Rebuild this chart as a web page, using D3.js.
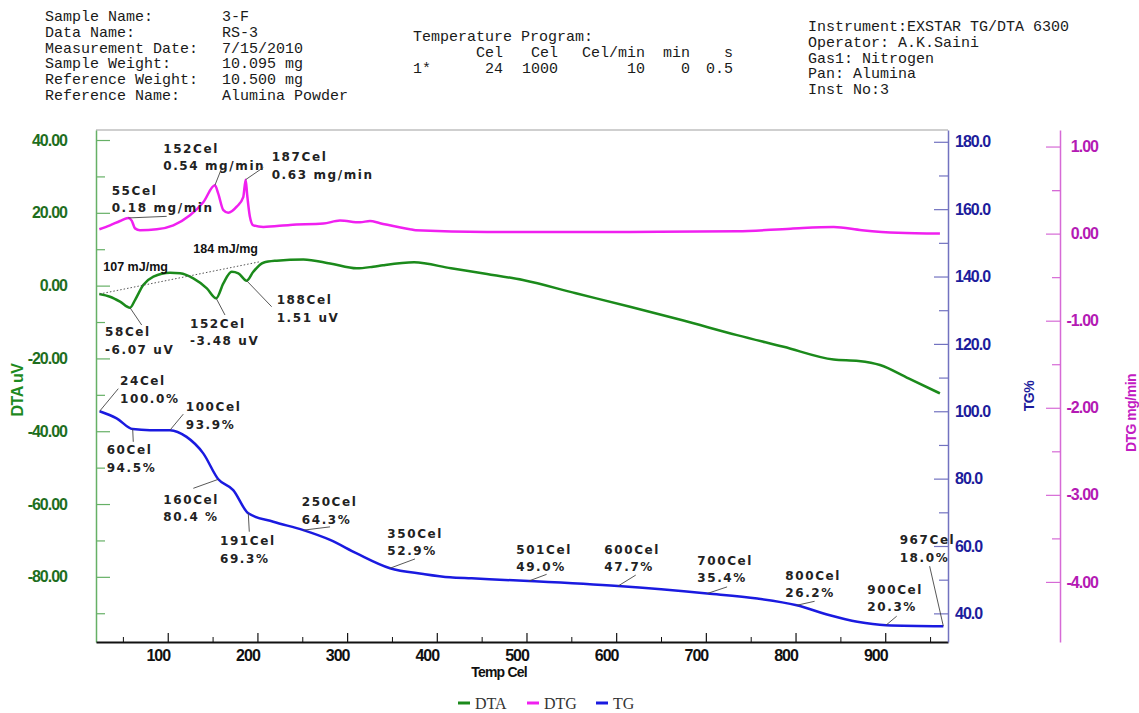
<!DOCTYPE html>
<html>
<head>
<meta charset="utf-8">
<title>TG/DTA 3-F</title>
<script src="https://cdnjs.cloudflare.com/ajax/libs/d3/7.8.5/d3.min.js"></script>
<style>
  body { margin: 0; background: #fff; }
  svg { display: block; }
  .mono { font-family: "Liberation Mono", "DejaVu Sans Mono", monospace; font-size: 15px; fill: #1a1a1a; }
  .tick text { font-family: "Liberation Sans", Arial, sans-serif; font-weight: bold; font-size: 16px; letter-spacing: -1px; }
  .ann { font-family: "DejaVu Sans", sans-serif; font-weight: bold; font-size: 12px; letter-spacing: 1.6px; fill: #222; }
  .enth { font-family: "Liberation Sans", Arial, sans-serif; font-weight: bold; font-size: 12.5px; fill: #111; }
</style>
</head>
<body>
<svg id="chart" width="1139" height="713"></svg>
<script>
// ---- header text ----
var headerLabels = ["Sample Name:", "Data Name:", "Measurement Date:", "Sample Weight:", "Reference Weight:", "Reference Name:"];
var headerValues = ["3-F", "RS-3", "7/15/2010", "10.095 mg", "10.500 mg", "Alumina Powder"];
var programUnits = ["Cel", "Cel", "Cel/min", "min", "s"];
var programRow = ["24", "1000", "10", "0", "0.5"];
var instrumentLines = ["Instrument:EXSTAR TG/DTA 6300", "Operator: A.K.Saini", "Gas1: Nitrogen", "Pan: Alumina", "Inst No:3"];

// ---- tick values ----
var tempTicks = [100, 200, 300, 400, 500, 600, 700, 800, 900];
var dtaTicks = [-80, -60, -40, -20, 0, 20, 40];
var tgTicks = [40, 60, 80, 100, 120, 140, 160, 180];
var dtgTicks = [-4, -3, -2, -1, 0, 1];

// ---- DTA curve (Cel, uV) ----
var dtaTemp = [23.7, 35.6, 46.8, 57.9, 63.5, 72.7, 84, 102.5, 113.7, 128.5, 143.6, 154, 162, 171.3, 178.7, 188, 195.4, 206.6, 221.5, 251.2, 281, 310.7, 329, 340, 374.6, 415.9, 456, 496, 555, 615.4, 675, 734.8, 786.7, 842.5, 870.3, 894.2, 926, 961];
var dtaValue = [-2.3, -3.05, -4.4, -6.07, -3.96, 0.16, 2.45, 3.55, 3.38, 2.0, -0.74, -3.48, 0.63, 3.8, 3.38, 1.35, 3.8, 6.3, 6.85, 7.2, 6.1, 4.75, 5.2, 5.6, 6.4, 4.75, 3.2, 1.54, -2.1, -5.8, -9.6, -13.6, -16.8, -20.3, -20.7, -21.8, -25.5, -29.6];

// ---- DTG curve (Cel, mg/min) ----
var dtgTemp = [23.7, 35.6, 46.8, 56, 59.8, 63.5, 69, 87.7, 106.2, 124.8, 139.6, 152.6, 156.3, 162, 167.5, 176.9, 184.2, 186.9, 188.5, 191.5, 195.4, 206.6, 236.3, 273.5, 292, 314.4, 325.5, 336.7, 370, 376.5, 456, 615, 735, 794.6, 842.5, 874, 914, 961];
var dtgValue = [0.05, 0.095, 0.145, 0.18, 0.15, 0.06, 0.04, 0.05, 0.095, 0.21, 0.36, 0.555, 0.46, 0.27, 0.24, 0.31, 0.42, 0.62, 0.45, 0.2, 0.095, 0.076, 0.10, 0.115, 0.15, 0.13, 0.145, 0.12, 0.05, 0.04, 0.02, 0.02, 0.026, 0.057, 0.076, 0.04, 0.01, 0.0];

// ---- TG curve (Cel, %) ----
var tgTemp = [24, 43, 60.9, 80.2, 102.5, 121, 139.6, 156.4, 173, 189.8, 217.7, 251.2, 281, 310.7, 347.8, 385, 414.7, 438.8, 502.6, 602, 701.6, 757.4, 801.3, 837.2, 868.9, 900.9, 964.8];
var tgValue = [100.0, 97.9, 94.7, 94.4, 94.4, 92.4, 87.5, 79.8, 76.6, 69.7, 67.2, 64.7, 61.8, 57.8, 53.4, 51.7, 50.7, 50.4, 49.6, 48.1, 45.9, 44.4, 42.4, 39.5, 37.5, 36.5, 36.2];

// ---- peak / step annotations ----
var annSeries = ["DTG", "DTG", "DTG", "DTA", "DTA", "DTA", "TG", "TG", "TG", "TG", "TG", "TG", "TG", "TG", "TG", "TG", "TG", "TG", "TG"];
var annTemp = [56, 152.6, 186.9, 57.9, 154, 188, 24, 60.9, 102.5, 156.4, 189.8, 251.2, 347.8, 502.6, 602, 701.6, 801.3, 900.9, 964.8];
var annValue = [0.18, 0.555, 0.62, -6.07, -3.48, 1.35, 100.0, 94.7, 94.4, 79.8, 69.7, 64.7, 53.4, 49.6, 48.1, 45.9, 42.4, 36.5, 36.2];
var annTitle = ["55Cel", "152Cel", "187Cel", "58Cel", "152Cel", "188Cel", "24Cel", "60Cel", "100Cel", "160Cel", "191Cel", "250Cel", "350Cel", "501Cel", "600Cel", "700Cel", "800Cel", "900Cel", "967Cel"];
var annReading = ["0.18 mg/min", "0.54 mg/min", "0.63 mg/min", "-6.07 uV", "-3.48 uV", "1.51 uV", "100.0%", "94.5%", "93.9%", "80.4 %", "69.3%", "64.3%", "52.9%", "49.0%", "47.7%", "35.4%", "26.2%", "20.3%", "18.0%"];

// DTA peak-area baseline and its enthalpy labels
var baseTemp = [24, 203];
var baseValue = [-2.3, 6.57];
var enthalpyText = ["107 mJ/mg", "184 mJ/mg"];

var legendNames = ["DTA", "DTG", "TG"];

// ---- layout ----
var plot = { left: 96, right: 948, top: 130, bottom: 642 };
var dtgAxisX = 1060;
var colors = { DTA: "#1b8a1b", DTG: "#f020f0", TG: "#1a1ae0" };

var svg = d3.select("#chart");

var x = d3.scaleLinear().domain([20, 970]).range([plot.left, plot.right]);
var yDTA = d3.scaleLinear().domain([-97.9, 42.75]).range([plot.bottom, plot.top]);
var yTG = d3.scaleLinear().domain([31.5, 183.5]).range([plot.bottom, plot.top]);
var yDTG = d3.scaleLinear().domain([-4.69, 1.19]).range([plot.bottom, plot.top]);
var yScales = { DTA: yDTA, DTG: yDTG, TG: yTG };

// header blocks
var hdr = svg.append("g").attr("class", "mono");
headerLabels.forEach(function (t, i) {
    hdr.append("text").attr("x", 45).attr("y", 21 + i * 15.8).text(t);
    hdr.append("text").attr("x", 222).attr("y", 21 + i * 15.8).text(headerValues[i]);
});
hdr.append("text").attr("x", 413).attr("y", 41).text("Temperature Program:");
var unitEnds = [503, 558, 645, 690, 733];
programUnits.forEach(function (t, i) {
    hdr.append("text").attr("x", unitEnds[i]).attr("y", 57).attr("text-anchor", "end").text(t);
});
hdr.append("text").attr("x", 413).attr("y", 73).text("1*");
programRow.forEach(function (t, i) {
    hdr.append("text").attr("x", unitEnds[i]).attr("y", 73).attr("text-anchor", "end").text(t);
});
instrumentLines.forEach(function (t, i) {
    hdr.append("text").attr("x", 808).attr("y", 31 + i * 15.8).text(t);
});

// top frame line
svg.append("line")
    .attr("x1", plot.left).attr("x2", plot.right)
    .attr("y1", plot.top).attr("y2", plot.top)
    .attr("stroke", "#a0a0a0").attr("stroke-width", 1.2);

function styleAxis(g, lineColor, textColor) {
    g.select(".domain").attr("stroke", lineColor).attr("stroke-width", 1.5);
    g.selectAll(".tick line").attr("stroke", lineColor).attr("stroke-width", 1.2);
    g.selectAll(".tick text").attr("fill", textColor);
}

// left DTA axis
var gDTA = svg.append("g").attr("transform", "translate(" + plot.left + ",0)");
gDTA.call(d3.axisLeft(yDTA).tickValues(dtaTicks).tickSizeInner(-14).tickSizeOuter(0)
    .tickPadding(29).tickFormat(function (d) { return d.toFixed(2); }));
styleAxis(gDTA, "#66b066", "#1e6e1e");
var gDTAm = svg.append("g").attr("transform", "translate(" + plot.left + ",0)");
gDTAm.call(d3.axisLeft(yDTA).tickValues(dtaTicks.slice(0, -1).map(function (d) { return d - 10; }).concat([30]))
    .tickSizeInner(-9).tickSizeOuter(0).tickFormat(""));
gDTAm.select(".domain").remove();
gDTAm.selectAll(".tick line").attr("stroke", "#66b066").attr("stroke-width", 1.2);

// bottom temperature axis
var gX = svg.append("g").attr("transform", "translate(0," + plot.bottom + ")");
gX.call(d3.axisBottom(x).tickValues(tempTicks).tickSizeInner(-9).tickSizeOuter(0).tickPadding(8));
styleAxis(gX, "#111", "#111");
gX.select(".domain").attr("stroke-width", 2);
gX.selectAll(".tick text").attr("x", -10);
var gXm = svg.append("g").attr("transform", "translate(0," + plot.bottom + ")");
gXm.call(d3.axisBottom(x).tickValues(tempTicks.map(function (d) { return d - 50; }).concat([950]))
    .tickSizeInner(-5).tickSizeOuter(0).tickFormat(""));
gXm.select(".domain").remove();
gXm.selectAll(".tick line").attr("stroke", "#111");

svg.append("text")
    .attr("x", 499).attr("y", 677)
    .attr("text-anchor", "middle")
    .style("font-family", "'Liberation Sans', Arial, sans-serif")
    .style("font-weight", "bold").style("font-size", "14px").style("letter-spacing", "-0.8px")
    .attr("fill", "#111")
    .text("Temp Cel");

// right TG axis
var gTG = svg.append("g").attr("transform", "translate(" + plot.right + ",0)");
gTG.call(d3.axisRight(yTG).tickValues(tgTicks).tickSizeInner(-14).tickSizeOuter(0)
    .tickPadding(7).tickFormat(function (d) { return d.toFixed(1); }));
styleAxis(gTG, "#7272c0", "#1c1c9c");
var gTGm = svg.append("g").attr("transform", "translate(" + plot.right + ",0)");
gTGm.call(d3.axisRight(yTG).tickValues(tgTicks.slice(1).map(function (d) { return d - 10; }))
    .tickSizeInner(-9).tickSizeOuter(0).tickFormat(""));
gTGm.select(".domain").remove();
gTGm.selectAll(".tick line").attr("stroke", "#7272c0").attr("stroke-width", 1.2);

// far right DTG axis
var gDTG = svg.append("g").attr("transform", "translate(" + dtgAxisX + ",0)");
gDTG.call(d3.axisRight(yDTG).tickValues(dtgTicks).tickSizeInner(-14).tickSizeOuter(0)
    .tickFormat(function (d) { return d.toFixed(2); }));
styleAxis(gDTG, "#d66ad6", "#b41ab4");
gDTG.selectAll(".tick text").attr("text-anchor", "end").attr("x", 38);
var gDTGm = svg.append("g").attr("transform", "translate(" + dtgAxisX + ",0)");
gDTGm.call(d3.axisRight(yDTG).tickValues(dtgTicks.map(function (d) { return d - 0.5; }).concat([0.5]).slice(1))
    .tickSizeInner(-8).tickSizeOuter(0).tickFormat(""));
gDTGm.select(".domain").remove();
gDTGm.selectAll(".tick line").attr("stroke", "#d66ad6").attr("stroke-width", 1.2);

// axis titles
function axisTitle(tx, ty, txt, color, size) {
    svg.append("text")
        .attr("transform", "translate(" + tx + "," + ty + ") rotate(-90)")
        .attr("text-anchor", "middle")
        .style("font-family", "'Liberation Sans', Arial, sans-serif")
        .style("font-weight", "bold").style("font-size", size + "px").style("letter-spacing", "-0.5px")
        .attr("fill", color)
        .text(txt);
}
axisTitle(23, 390, "DTA uV", "#1e8a1e", 16);
axisTitle(1034, 396, "TG%", "#1c1c9c", 14);
axisTitle(1136, 413, "DTG mg/min", "#c21bc2", 14);

// curves
function drawCurve(temps, vals, yScale, color) {
    var pts = temps.map(function (t, i) { return [t, vals[i]]; });
    svg.append("path")
        .datum(pts)
        .attr("fill", "none")
        .attr("stroke", color)
        .attr("stroke-width", 2.5)
        .attr("stroke-linejoin", "round")
        .attr("d", d3.line()
            .x(function (d) { return x(d[0]); })
            .y(function (d) { return yScale(d[1]); })
            .curve(d3.curveMonotoneX));
}
drawCurve(dtgTemp, dtgValue, yDTG, colors.DTG);
drawCurve(dtaTemp, dtaValue, yDTA, colors.DTA);
drawCurve(tgTemp, tgValue, yTG, colors.TG);

// peak area baseline (dotted)
svg.append("line")
    .attr("x1", x(baseTemp[0])).attr("y1", yDTA(baseValue[0]))
    .attr("x2", x(baseTemp[1])).attr("y2", yDTA(baseValue[1]))
    .attr("stroke", "#555").attr("stroke-width", 1).attr("stroke-dasharray", "1.5,2");
var bx = x(baseTemp[0]), by = yDTA(baseValue[0]);
svg.append("text").attr("class", "enth").attr("x", bx + 3.7).attr("y", by - 27.3).attr("dy", "0.35em").text(enthalpyText[0]);
svg.append("text").attr("class", "enth").attr("x", bx + 93.7).attr("y", by - 45.7).attr("dy", "0.35em").text(enthalpyText[1]);

// annotation layout: [label dx, label dy, leader end dx, leader end dy] in px from the point
var annLayout = [
    [-16.6, -27.6, 38.4, -1.6], [-51.7, -36.7, 6.7, -17], [26, -22.7, 17.6, -12.1],
    [-25, 24, 11.7, 17.3], [-26.2, 25, 8.8, 16.7], [30, 19.3, 25, 26],
    [20.4, -30.2, 18.7, -22.6], [-26, 21, 0.6, 12.7], [15.7, -23.3, 13.3, -16],
    [-55, 20, -25, 9], [-28.3, 27.7, 1, 18.4], [-1.6, -28.3, 26.7, -3.3],
    [-2.7, -35, 25, -9.3], [-12.6, -31.7, 17.8, -6.7], [-13.6, -36.7, 17.8, -11],
    [-10, -33.3, 19.8, -6.6], [-11.4, -30, 17.9, -4], [-18.7, -35.7, 10.7, -9],
    [-43.7, -86, -13.7, -60]
];
var gAnn = svg.append("g");
annTitle.forEach(function (t, i) {
    var px = x(annTemp[i]), py = yScales[annSeries[i]](annValue[i]);
    var L = annLayout[i];
    gAnn.append("line")
        .attr("x1", px).attr("y1", py)
        .attr("x2", px + L[2]).attr("y2", py + L[3])
        .attr("stroke", "#444").attr("stroke-width", 0.9);
    gAnn.append("text").attr("class", "ann")
        .attr("x", px + L[0]).attr("y", py + L[1]).attr("dy", "0.36em").text(t);
    gAnn.append("text").attr("class", "ann")
        .attr("x", px + L[0]).attr("y", py + L[1] + 17.5).attr("dy", "0.36em").text(annReading[i]);
});

// legend
var legendX = [458, 527, 596];
var lg = svg.append("g");
legendNames.forEach(function (n, i) {
    lg.append("line")
        .attr("x1", legendX[i]).attr("x2", legendX[i] + 12)
        .attr("y1", 703).attr("y2", 703)
        .attr("stroke", colors[n]).attr("stroke-width", 3);
    lg.append("text")
        .attr("x", legendX[i] + 17).attr("y", 709)
        .style("font-family", "'Liberation Serif', 'Times New Roman', serif")
        .style("font-size", "16px")
        .attr("fill", "#333")
        .text(n);
});
</script>
</body>
</html>
